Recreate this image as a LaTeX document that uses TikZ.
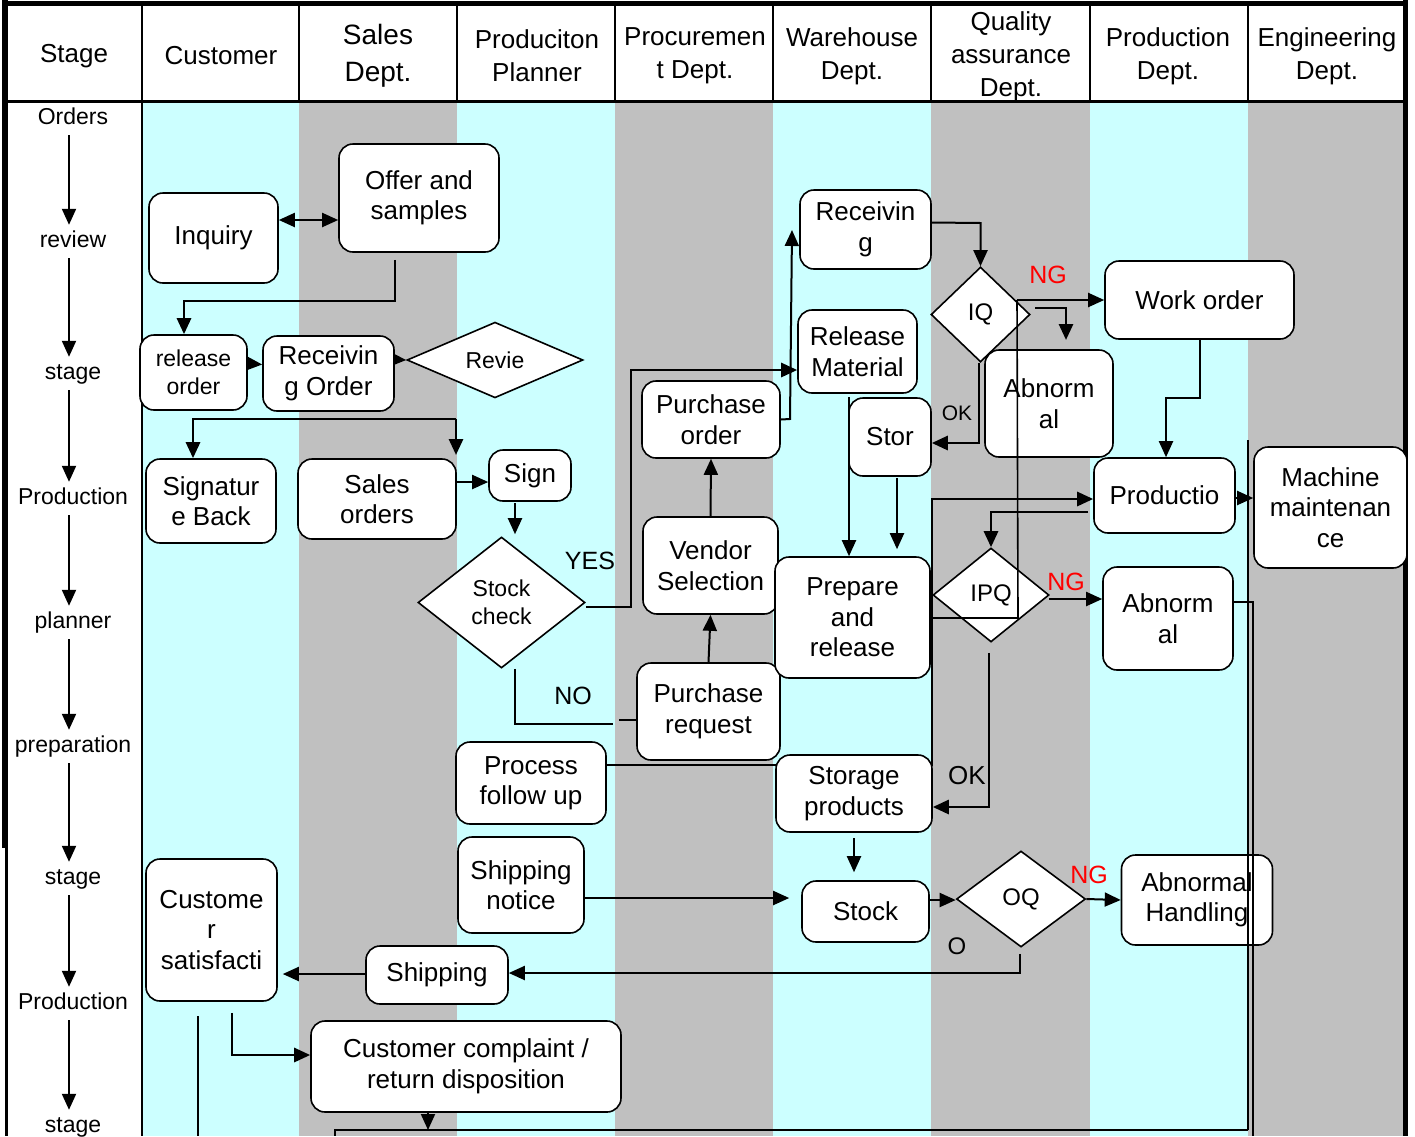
\documentclass[tikz,border=0pt]{standalone}
\usepackage{fontspec}
\setmainfont{Liberation Sans}
\usetikzlibrary{shapes.geometric,arrows.meta,calc}
\definecolor{lanecyan}{HTML}{CCFFFF}
\definecolor{lanegray}{HTML}{C0C0C0}
\definecolor{ngred}{HTML}{FF0000}
\newcommand\fzA{\fontsize{26}{30.5}\selectfont}
\newcommand\fzB{\fontsize{23}{28}\selectfont}
\newcommand\fzH{\fontsize{26}{33}\selectfont}
\newcommand\fzS{\fontsize{28}{37}\selectfont}
\newcommand\fzD{\fontsize{24}{28}\selectfont}
\newcommand\fzL{\fontsize{25}{30}\selectfont}
\newcommand\fzO{\fontsize{21}{25}\selectfont}
\pgfdeclarelayer{lanes}
\pgfdeclarelayer{wires}
\pgfsetlayers{lanes,wires,main}
\begin{document}
\begin{tikzpicture}[x=1pt,y=-1pt,
  box/.style={draw, fill=white, rounded corners=14pt, line width=1.6pt, align=center, inner sep=0pt, font=\fzA},
  bx/.style 2 args={box, minimum width=#1, minimum height=#2},
  dia/.style={draw, fill=white, diamond, line width=1.6pt, align=center, inner sep=0pt, font=\fzD},
  dm/.style 2 args={dia, minimum width=#1, minimum height=#2},
  conn/.style={line width=2pt},
  thk/.style={line width=2.8pt},
  arr/.style={conn, -{Triangle[length=16pt,width=14pt]}},
  hdr/.style={align=center, font=\fzH, inner sep=0pt},
  stg/.style={font=\fzB, inner sep=0pt, text height=17pt, text depth=5pt},
  lbl/.style={font=\fzL, inner sep=0pt},
  nglbl/.style={font=\fzL, inner sep=0pt, text=ngred}]

\useasboundingbox (0,0) rectangle (1415,1136);

\begin{pgfonlayer}{lanes}
\fill[white] (0,0) rectangle (1415,1136);
\fill[lanecyan] (142,101) rectangle (299,1136);
\fill[lanegray] (299,101) rectangle (457,1136);
\fill[lanecyan] (457,101) rectangle (615,1136);
\fill[lanegray] (615,101) rectangle (773,1136);
\fill[lanecyan] (773,101) rectangle (931,1136);
\fill[lanegray] (931,101) rectangle (1090,1136);
\fill[lanecyan] (1090,101) rectangle (1248,1136);
\fill[lanegray] (1248,101) rectangle (1405,1136);
\draw[line width=5pt] (3,3) -- (1407,3);
\draw[line width=6pt] (5,0) -- (5,848);
\draw[line width=3pt] (6,848) -- (6,1136);
\draw[line width=5pt] (1405,0) -- (1405,1136);
\draw[line width=3pt] (5,101) -- (1405,101);
\foreach \xx in {299,457,615,773,931,1090,1248} \draw[line width=2.5pt] (\xx,3) -- (\xx,101);
\draw[line width=2.5pt] (142,3) -- (142,1136);
\end{pgfonlayer}

% headers
\node[hdr] (h0) at (74,56) {Stage};
\node[hdr] (h1) at (221,56) {Customer};
\node[hdr, font=\fzS] (h2) at (378,56) {Sales\\Dept.};
\node[hdr] (h3) at (537,56) {Produciton\\Planner};
\node[hdr] (h4) at (695,56) {Procuremen\\t Dept.};
\node[hdr] (h5) at (852,56) {Warehouse\\Dept.};
\node[hdr] (h6) at (1011,57) {Quality\\assurance\\Dept.};
\node[hdr] (h7) at (1168,56) {Production\\Dept.};
\node[hdr] (h8) at (1327,56) {Engineering\\Dept.};

% stage column
\node[stg] (st1) at (73,118) {Orders};
\node[stg] (st2) at (73,241) {review};
\node[stg] (st3) at (73,373) {stage};
\node[stg] (st4) at (73,498) {Production};
\node[stg] (st5) at (73,622) {planner};
\node[stg] (st6) at (73,746) {preparation};
\node[stg] (st7) at (73,878) {stage};
\node[stg] (st8) at (73,1003) {Production};
\node[stg] (st9) at (73,1126) {stage};
\foreach \a/\b in {st1/st2,st2/st3,st3/st4,st4/st5,st5/st6,st6/st7,st7/st8,st8/st9}
  \draw[arr, shorten <=6pt, shorten >=5pt] ([xshift=-4pt]\a.south) -- ([xshift=-4pt]\b.north);

% nodes
\node[bx={129}{90}] (inq) at (213.5,238) {Inquiry};
\node[bx={160}{108}] (offer) at (419,198) {Offer and\\samples};
\node[bx={107}{75}, font=\fzB] (relo) at (193.5,372.5) {release\\order};
\node[bx={131}{75}] (rord) at (328.5,373.5) {Receivin\\g Order};
\node[dm={176}{74}, font=\fzB] (revie) at (495,360) {Revie};
\node[bx={130}{84}] (sigb) at (211,501) {Signatur\\e Back};
\node[bx={158}{80}] (sord) at (377,499) {Sales\\orders};
\node[bx={82}{51}] (sign) at (530,475.5) {Sign};
\node[dm={167}{131}, font=\fzB] (sc) at (501.5,602.5) {Stock\\check};
\node[bx={138}{77}] (po) at (711,419.5) {Purchase\\order};
\node[bx={135}{97}] (vs) at (710.5,565.5) {Vendor\\Selection};
\node[bx={143}{97}] (pr) at (708.5,711.5) {Purchase\\request};
\node[bx={150}{82}] (pfu) at (531,783) {Process\\follow up};
\node[bx={126}{96}] (shn) at (521,885) {Shipping\\notice};
\node[bx={131}{79}] (recv) at (865.5,229.5) {Receivin\\g};
\node[bx={119}{83}] (relm) at (857.5,351.5) {Release\\Material};
\node[bx={82}{78}] (stor) at (890,437) {Stor};
\node[bx={155}{121}] (prep) at (852.5,617.5) {Prepare\\and\\release};
\node[bx={156}{77}] (stp) at (854,793.5) {Storage\\products};
\node[bx={127}{61}] (stk) at (865.5,911.5) {Stock};
\node[dm={99}{95}] (iq) at (980.5,314.5) {IQ};
\node[bx={128}{107}] (abn1) at (1049,403.5) {Abnorm\\al};
\node[bx={189}{78}] (wo) at (1199.5,300) {Work order};
\node[bx={141}{75}] (prod) at (1164.5,495.5) {Productio};
\node[bx={153}{121}] (mach) at (1330.5,507.5) {Machine\\maintenan\\ce};
\node[dm={116}{94}] (ipq) at (991,595) {IPQ};
\node[bx={130}{103}] (abn2) at (1168,618.5) {Abnorm\\al};
\node[dm={129}{96}] (oq) at (1021,899) {OQ};
\node[bx={151}{90}] (abh) at (1197,900) {Abnormal\\Handling};
\node[bx={131}{142}] (cs) at (211.5,930) {Custome\\r\\satisfacti};
\node[bx={142}{58}] (ship) at (437,975) {Shipping};
\node[bx={310}{91}] (cc) at (466,1066.5) {Customer complaint /\\return disposition};

% labels
\node[nglbl] (ng1) at (1048,275) {NG};
\node[nglbl] (ng2) at (1066,582) {NG};
\node[nglbl] (ng3) at (1089,875) {NG};
\node[lbl] (yes) at (590,561) {YES};
\node[lbl] (no) at (573,696) {NO};
\node[lbl, font=\fzO] (ok1) at (957,413) {OK};
\node[lbl, font=\fzA] (ok2) at (967,776) {OK};
\node[lbl, font=\fzD] (o1) at (957,946) {O};

% helper coordinates
\coordinate (w2a) at (395,301);
\coordinate (w2b) at (184,301);
\coordinate (j5a) at (193,419);
\coordinate (j5b) at (456,419);
\coordinate (c6) at ([yshift=17pt]sord.east);
\coordinate (c7) at (515,503);
\coordinate (c8a) at (631,607);
\coordinate (c8b) at (631,370);
\coordinate (c9a) at (515,724);
\coordinate (c9e) at (613,724);
\coordinate (c9b) at (619,720);
\coordinate (c12) at (790,419);
\coordinate (c12e) at (792,230);
\coordinate (c13) at (980.5,223);
\coordinate (c14) at (1017,300);
\coordinate (c15s) at (1035,308);
\coordinate (c15) at (1066,308);
\coordinate (c16) at (1018,618);
\coordinate (c16e) at (932,618);
\coordinate (c17) at (979,443);
\coordinate (c18a) at (1199.5,398);
\coordinate (c18b) at (1166,398);
\coordinate (c19) at (991,512);
\coordinate (c20) at ([yshift=-2.5pt]prod.east);
\coordinate (c21a) at (932,765);
\coordinate (c21b) at (932,499);
\coordinate (c22) at (1049,599);
\coordinate (c23) at (989,807);
\coordinate (c24) at (849,397);
\coordinate (c25) at (897,478);
\coordinate (c26) at (854,838);
\coordinate (c27) at (584,898);
\coordinate (c28) at (922,900);
\coordinate (c30) at (1020,973);
\coordinate (c31) at (366,974);
\coordinate (c32) at (232,1055);
\coordinate (c33) at (198,1016);
\coordinate (c33e) at (198,1136);
\coordinate (c34) at (428,1130);
\coordinate (c35) at (1253,602);
\coordinate (c35e) at (1253,1136);
\coordinate (c36) at (1248,440);
\coordinate (c36b) at (1248,1130);
\coordinate (c36c) at (335,1130);
\coordinate (c36d) at (335,1136);

% connectors (under the boxes)
\begin{pgfonlayer}{wires}
\draw[conn, {Triangle[length=16pt,width=14pt]}-{Triangle[length=16pt,width=14pt]}]
  ([yshift=18pt]inq.east) -- ([yshift=-22pt]offer.west);
\draw[arr, thk, shorten <=7pt] (w2a |- offer.south) -- (w2a) -- (w2b) -- (w2b |- relo.north);
\draw[arr] ([yshift=9pt]relo.east) -- ([yshift=9pt]rord.west);
\draw[arr] ([yshift=14pt]rord.east) -- (revie.west);
\draw[arr, thk] (j5b) -- (j5a) -- (j5a |- sigb.north);
\draw[arr, thk] (j5b) -- ++(0,36);
\draw[arr] (c6) -- (c6 -| sign.west);
\draw[arr, shorten >=2pt] (c7) -- (c7 |- sc.north);
\draw[arr, thk] (c8a -| sc.east) -- (c8a) -- (c8b) -- (c8b -| relm.west);
\draw[thk] (c9a |- sc.south) -- (c9a) -- (c9e);
\draw[conn] (c9b) -- (c9b -| pr.west);
\draw[arr] (pr.north) -- (vs.south);
\draw[arr] (vs.north) -- (po.south);
\draw[arr] (po.east) -- (c12) -- (c12e);
\draw[arr] ([yshift=7pt]recv.east) -- (c13) -- (iq.north);
\draw[arr] (c14) -- (c14 -| wo.west);
\draw[arr, thk] (c15s) -- (c15) -- ++(0,32);
\draw[arr, thk] (iq.south -| c17) -- (c17) -- (c17 -| stor.east);
\draw[arr] (wo.south) -- (c18a) -- (c18b) -- (c18b |- prod.north);
\draw[arr, thk] (1088,512) -- (c19) -- (ipq.north);
\draw[arr] (c20) -- (c20 -| mach.west);
\draw[arr, thk] (pfu.east |- c21a) -- (c21a) -- (c21b) -- (c21b -| prod.west);
\draw[arr] (c22) -- (c22 -| abn2.west);
\draw[arr, thk, shorten <=10pt] (ipq.south -| c23) -- (c23) -- (c23 -| stp.east);
\draw[arr] (c24) -- (c24 |- prep.north);
\draw[arr, shorten >=7pt] (c25) -- (c25 |- prep.north);
\draw[arr, shorten >=8pt] (c26) -- (c26 |- stk.north);
\draw[arr, shorten >=12pt] (c27) -- (c27 -| stk.west);
\draw[arr] (c28) -- (c28 -| oq.west);
\draw[arr] (oq.east) -- (abh.west);
\draw[arr, shorten <=6pt] (oq.south -| c30) -- (c30) -- (c30 -| ship.east);
\draw[arr, shorten >=5pt] (c31) -- (c31 -| cs.east);
\draw[arr, thk, shorten <=11pt] (c32 |- cs.south) -- (c32) -- (c32 -| cc.west);
\draw[conn] (c33) -- (c33e);
\draw[arr] (cc.south -| c34) -- (c34);
\end{pgfonlayer}

% lines drawn over the boxes
\draw[line width=1.6pt] (c14) -- (c16) -- (c16e);
\draw[thk] (c35 -| abn2.east) -- (c35) -- (c35e);
\draw[conn] (c36) -- (c36b);
\draw[thk] (c36b) -- (c36c) -- (c36d);
\end{tikzpicture}
\end{document}
